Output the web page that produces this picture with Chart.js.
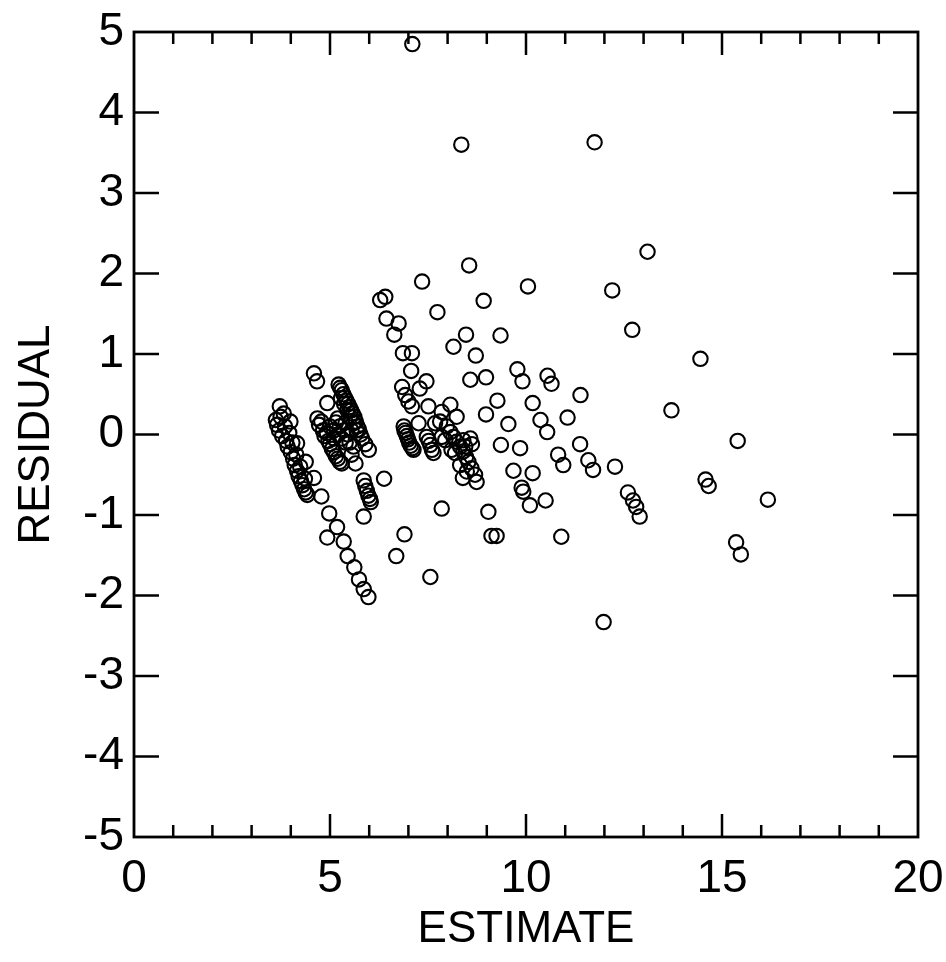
<!DOCTYPE html>
<html>
<head>
<meta charset="utf-8">
<title>Residual vs Estimate</title>
<script src="https://cdn.jsdelivr.net/npm/chart.js@4.4.1/dist/chart.umd.min.js"></script>
<style>
  html, body { margin: 0; padding: 0; background: #fff; }
  canvas { display: block; }
</style>
</head>
<body>
<canvas id="residualChart" width="946" height="962"></canvas>
<script>
// Residuals plotted against the estimate, grouped by where they sit on the plot
const isolated = [
  [7.1, 4.85], [8.35, 3.6], [11.75, 3.63], [13.1, 2.27], [8.55, 2.1], [7.35, 1.9],
  [10.05, 1.84], [12.2, 1.79], [8.92, 1.66], [6.28, 1.67], [6.41, 1.71], [7.74, 1.52],
  [6.44, 1.44], [6.75, 1.38], [6.64, 1.24], [8.47, 1.24], [12.71, 1.3], [9.35, 1.23],
  [8.15, 1.09], [6.86, 1.01], [7.09, 1.01], [8.72, 0.98], [14.45, 0.94]
]
const middle = [
  [7.07, 0.79], [9.78, 0.81], [9.91, 0.66], [10.55, 0.73], [10.65, 0.63], [7.46, 0.66],
  [7.29, 0.57], [6.84, 0.59], [8.58, 0.68], [8.98, 0.71], [9.27, 0.42], [10.17, 0.39],
  [8.98, 0.25], [9.55, 0.13], [10.37, 0.18], [10.54, 0.03], [11.39, 0.49], [11.06, 0.21],
  [13.71, 0.3], [15.4, -0.08], [11.38, -0.12], [10.82, -0.25], [10.95, -0.38], [11.59, -0.32],
  [11.71, -0.44], [12.27, -0.4], [9.36, -0.13], [9.85, -0.17], [9.68, -0.45], [10.17, -0.48],
  [9.89, -0.66], [9.93, -0.71], [10.1, -0.88], [10.5, -0.82]
]
const lower = [
  [12.6, -0.72], [12.73, -0.82], [12.81, -0.9], [12.9, -1.02], [14.58, -0.56], [14.66, -0.64],
  [16.17, -0.81], [15.36, -1.34], [15.48, -1.49], [11.98, -2.33], [10.9, -1.27], [9.12, -1.26],
  [9.25, -1.26], [9.04, -0.96], [7.85, -0.92], [6.9, -1.24], [6.69, -1.51], [7.56, -1.77],
  [6.38, -0.55]
]
const clusterSeven = [
  [6.92, 0.49], [7.0, 0.41], [7.09, 0.35], [7.51, 0.35], [8.07, 0.37], [7.85, 0.28],
  [8.23, 0.22], [7.26, 0.14], [6.88, 0.1], [6.9, 0.05], [6.93, 0.02], [6.96, -0.02],
  [6.99, -0.06], [7.02, -0.1], [7.06, -0.14], [7.1, -0.17], [7.13, -0.19], [7.47, -0.03],
  [7.52, -0.08], [7.56, -0.13], [7.6, -0.19], [7.64, -0.23], [7.68, 0.14], [7.81, 0.16],
  [7.98, 0.1], [8.07, 0.03], [8.15, -0.03], [8.23, -0.09], [8.32, -0.15], [8.4, -0.21],
  [8.47, -0.28], [8.53, -0.34], [8.61, -0.42], [8.7, -0.5], [8.74, -0.59], [8.4, -0.07],
  [8.45, -0.15], [8.58, -0.05], [8.62, -0.12], [8.32, -0.38], [8.39, -0.54], [8.49, -0.46],
  [7.85, -0.03], [7.94, -0.07], [8.1, -0.19], [8.19, -0.23]
]
const leftBand = [
  [3.62, 0.18], [3.65, 0.12], [3.72, 0.35], [3.74, 0.22], [3.7, 0.05], [3.78, -0.02],
  [3.82, 0.26], [3.85, 0.1], [3.88, -0.08], [3.92, -0.15], [3.96, 0.02], [4.0, -0.22],
  [4.04, -0.1], [4.06, -0.3], [4.1, -0.38], [4.14, -0.25], [4.16, -0.45], [4.2, -0.52],
  [4.24, -0.4], [4.26, -0.58], [4.3, -0.63], [4.34, -0.68], [4.38, -0.72], [4.42, -0.75],
  [4.36, -0.55], [3.99, 0.16], [4.16, -0.11]
]
const chain = [
  [4.38, -0.34], [4.59, -0.54], [4.78, -0.77], [4.98, -0.98], [5.18, -1.15], [4.93, -1.28],
  [5.35, -1.33], [5.45, -1.51], [5.62, -1.65], [5.74, -1.8], [5.86, -1.92], [5.98, -2.02]
]
const clusterFive = [
  [4.59, 0.76], [4.67, 0.66], [4.93, 0.39],
  [4.68, 0.2], [4.72, 0.12], [4.78, 0.16], [4.82, 0.05], [4.86, -0.02], [4.92, 0.02],
  [4.96, -0.08], [5.0, -0.12], [5.05, -0.18], [5.1, -0.22], [5.15, -0.27], [5.2, -0.3],
  [5.25, -0.34], [5.3, -0.36],
  [5.22, 0.62], [5.26, 0.58], [5.3, 0.55], [5.34, 0.5], [5.38, 0.46], [5.42, 0.42],
  [5.46, 0.38], [5.5, 0.34], [5.54, 0.3], [5.58, 0.26], [5.62, 0.22], [5.66, 0.16],
  [5.7, 0.1], [5.74, 0.06], [5.78, 0.0], [5.82, -0.05], [5.28, 0.45], [5.36, 0.38],
  [5.44, 0.3], [5.52, 0.22], [5.6, 0.14], [5.68, 0.05],
  [5.0, 0.1], [5.1, 0.05], [5.15, 0.15], [5.2, 0.0], [5.25, 0.1], [5.3, -0.05],
  [5.35, 0.05], [5.4, -0.1], [5.45, 0.0], [5.5, -0.1], [5.55, 0.05], [5.6, -0.15],
  [5.1, -0.05], [5.2, 0.2], [5.4, 0.15],
  [5.55, -0.25], [5.65, -0.36], [5.9, -0.12], [5.99, -0.19], [5.86, -0.57], [5.9, -0.64],
  [5.94, -0.7], [5.98, -0.76], [6.02, -0.8], [6.04, -0.84], [5.86, -1.02]
]

const xTicks = [0, 5, 10, 15, 20]
const yTicks = [-5, -4, -3, -2, -1, 0, 1, 2, 3, 4, 5]

const points = [...isolated, ...middle, ...lower, ...clusterSeven, ...leftBand, ...chain, ...clusterFive]
  .map(([x, y]) => ({ x, y }))

const FONT = 'Liberation Sans, Arial, Helvetica, sans-serif'

// Box around the plot with inward ticks on all four sides
const frameTicks = {
  id: 'frameTicks',
  afterDatasetsDraw(chart) {
    const { ctx, chartArea: a, scales: { x, y } } = chart
    ctx.save()
    ctx.strokeStyle = '#000'
    ctx.lineWidth = 2.8
    ctx.strokeRect(a.left, a.top, a.right - a.left, a.bottom - a.top)
    ctx.lineWidth = 2.5
    ctx.beginPath()
    for (let v = x.min + 1; v < x.max; v++) {
      const px = x.getPixelForValue(v)
      const len = xTicks.includes(v) ? 23 : 12
      ctx.moveTo(px, a.bottom)
      ctx.lineTo(px, a.bottom - len)
      ctx.moveTo(px, a.top)
      ctx.lineTo(px, a.top + len)
    }
    yTicks.slice(1, -1).forEach(v => {
      const py = y.getPixelForValue(v)
      ctx.moveTo(a.left, py)
      ctx.lineTo(a.left + 25, py)
      ctx.moveTo(a.right, py)
      ctx.lineTo(a.right - 25, py)
    })
    ctx.stroke()
    ctx.restore()
  }
}

new Chart(document.getElementById('residualChart'), {
  type: 'scatter',
  data: {
    datasets: [{
      data: points,
      pointStyle: 'circle',
      pointRadius: 7.2,
      pointBorderWidth: 2.1,
      pointBorderColor: '#000',
      pointBackgroundColor: 'rgba(0,0,0,0)'
    }]
  },
  options: {
    responsive: false,
    animation: false,
    layout: { padding: { top: 32, right: 28, left: 0, bottom: 0 } },
    plugins: { legend: { display: false }, tooltip: { enabled: false } },
    scales: {
      x: {
        type: 'linear',
        min: 0,
        max: 20,
        afterBuildTicks: s => { s.ticks = xTicks.map(value => ({ value })) },
        afterFit: s => {
          s.height = 125
          s.paddingLeft = 0
          s.paddingRight = 0
        },
        grid: { display: false },
        border: { display: false },
        ticks: { color: '#000', font: { family: FONT, size: 46 }, padding: 7, maxRotation: 0 },
        title: { display: true, text: 'ESTIMATE', color: '#000', font: { family: FONT, size: 44 }, padding: { top: 0, bottom: 6 } }
      },
      y: {
        type: 'linear',
        min: -5,
        max: 5,
        afterBuildTicks: s => { s.ticks = yTicks.map(value => ({ value })) },
        afterFit: s => {
          s.width = 134
          s.paddingTop = 0
          s.paddingBottom = 0
        },
        grid: { display: false },
        border: { display: false },
        ticks: { color: '#000', font: { family: FONT, size: 46 }, padding: 2 },
        title: { display: true, text: 'RESIDUAL', color: '#000', font: { family: FONT, size: 44 }, padding: { top: 10, bottom: 0 } }
      }
    }
  },
  plugins: [frameTicks]
})
</script>
</body>
</html>
